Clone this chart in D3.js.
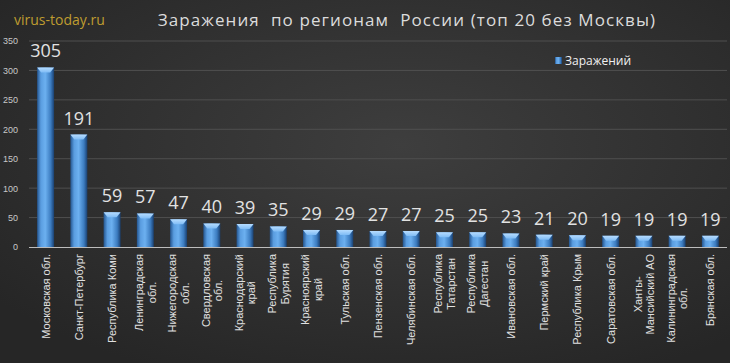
<!DOCTYPE html>
<html>
<head>
<meta charset="utf-8">
<script src="https://d3js.org/d3.v7.min.js"></script>
<style>
  body { margin: 0; background: #2b2b2b; }
  svg { display: block; }
</style>
</head>
<body>
<div id="chart"></div>
<script>
// data
var regions = ["Московская обл.", "Санкт-Петербург", "Республика Коми", "Ленинградская\nобл.",
  "Нижегородская\nобл.", "Свердловская\nобл.", "Краснодарский\nкрай", "Республика\nБурятия",
  "Красноярский\nкрай", "Тульская обл.", "Пензенская обл.", "Челябинская обл.",
  "Республика\nТатарстан", "Республика\nДагестан", "Ивановская обл.", "Пермский край",
  "Республика Крым", "Саратовская обл.", "Ханты-\nМансийский АО", "Калининградская\nобл.",
  "Брянская обл."];
var cases = [305, 191, 59, 57, 47, 40, 39, 35, 29, 29, 27, 27, 25, 25, 23, 21, 20, 19, 19, 19, 19];
var yTicks = [0, 50, 100, 150, 200, 250, 300, 350];

var width = 730, height = 363;
var x0 = 29, x1 = 727, yTop = 41, yBase = 247;

var svg = d3.select("#chart").append("svg")
  .attr("width", width).attr("height", height);

var defs = svg.append("defs");
var bg = defs.append("radialGradient").attr("id", "bg")
  .attr("cx", "55%").attr("cy", "40%").attr("r", "70%");
bg.append("stop").attr("offset", "0%").attr("stop-color", "#3e3e3e");
bg.append("stop").attr("offset", "100%").attr("stop-color", "#262626");

var barGrad = defs.append("linearGradient").attr("id", "bar")
  .attr("x1", "0%").attr("x2", "100%").attr("y1", "0%").attr("y2", "0%");
barGrad.append("stop").attr("offset", "0%").attr("stop-color", "#24558f");
barGrad.append("stop").attr("offset", "22%").attr("stop-color", "#5a9de0");
barGrad.append("stop").attr("offset", "48%").attr("stop-color", "#6cb0f0");
barGrad.append("stop").attr("offset", "80%").attr("stop-color", "#3c7cc0");
barGrad.append("stop").attr("offset", "100%").attr("stop-color", "#1a4070");

var capGrad = defs.append("linearGradient").attr("id", "cap")
  .attr("x1", "0%").attr("x2", "0%").attr("y1", "0%").attr("y2", "100%");
capGrad.append("stop").attr("offset", "0%").attr("stop-color", "#b6dcff");
capGrad.append("stop").attr("offset", "100%").attr("stop-color", "#7fbcf5");

svg.append("rect").attr("width", width).attr("height", height).attr("fill", "url(#bg)");

var x = d3.scaleBand().domain(d3.range(regions.length)).range([x0, x1]).paddingInner(0.49).paddingOuter(0.245);
var y = d3.scaleLinear().domain([0, 350]).range([yBase, yTop]);

// gridlines
svg.append("g").selectAll("line").data(yTicks.slice(1)).join("line")
  .attr("x1", x0).attr("x2", x1)
  .attr("y1", d => y(d)).attr("y2", d => y(d))
  .attr("stroke", "#4f4f4f").attr("stroke-width", 1);

// y axis
var yAxis = svg.append("g").attr("transform", "translate(19,0)")
  .call(d3.axisLeft(y).tickValues(yTicks).tickSize(0).tickPadding(1));
yAxis.select(".domain").remove();
yAxis.selectAll("text").attr("fill", "#c8c8c8").style("font", "9px 'Liberation Sans', sans-serif");

// bars
var bw = x.bandwidth();
var bars = svg.append("g").selectAll("g").data(cases).join("g");
bars.append("rect")
  .attr("x", (d, i) => x(i)).attr("y", d => y(d))
  .attr("width", bw).attr("height", d => yBase - y(d))
  .attr("fill", "url(#bar)");
bars.append("path")
  .attr("d", (d, i) => {
    var l = x(i), t = y(d);
    return "M" + l + "," + t + "L" + (l + bw) + "," + t + "L" + (l + bw - 4) + "," + (t + 5) +
      "L" + (l + 4) + "," + (t + 5) + "Z";
  })
  .attr("fill", "url(#cap)");

// axis line
svg.append("line").attr("x1", x0).attr("x2", x1).attr("y1", yBase + 0.5).attr("y2", yBase + 0.5)
  .attr("stroke", "#bdbdbd").attr("stroke-width", 1);

// value labels
svg.append("g").selectAll("text").data(cases).join("text")
  .attr("x", (d, i) => x(i) + bw / 2).attr("y", d => y(d) - 10)
  .attr("text-anchor", "middle").attr("fill", "#e2e2e2")
  .style("font", "18px 'Open Sans', sans-serif")
  .text(d => d);

// category labels, rotated, lines centred
var lab = svg.append("g").selectAll("g").data(regions).join("g")
  .attr("transform", (d, i) => "translate(" + (x(i) + bw / 2) + "," + (yBase + 7) + ") rotate(-90)");
lab.each(function (d) {
  var g = d3.select(this), lines = d.split("\n"), n = lines.length;
  var ts = lines.map((t, k) => g.append("text")
    .attr("y", (k - (n - 1) / 2) * 12.5)
    .attr("dominant-baseline", "central")
    .attr("text-anchor", "middle").attr("fill", "#e0e0e0")
    .style("font", "11px 'Liberation Sans', sans-serif").text(t));
  var maxLen = d3.max(ts, t => t.node().getComputedTextLength());
  ts.forEach(t => t.attr("x", -maxLen / 2));
});

// title and site name
svg.append("text").attr("x", 14).attr("y", 25).attr("fill", "#bf9c30")
  .style("font", "14px 'Open Sans', sans-serif").text("virus-today.ru");
svg.append("text").attr("x", 407).attr("y", 26).attr("text-anchor", "middle").attr("fill", "#dcdcdc")
  .style("font", "17px 'Open Sans', sans-serif").style("letter-spacing", "1.1px")
  .attr("xml:space", "preserve")
  .text("Заражения  по регионам  России (топ 20 без Москвы)");

// legend
svg.append("rect").attr("x", 555).attr("y", 57).attr("width", 7).attr("height", 7).attr("fill", "url(#bar)");
svg.append("text").attr("x", 565).attr("y", 65).attr("fill", "#f0f0f0")
  .style("font", "12px 'Open Sans', sans-serif").text("Заражений");
</script>
</body>
</html>
